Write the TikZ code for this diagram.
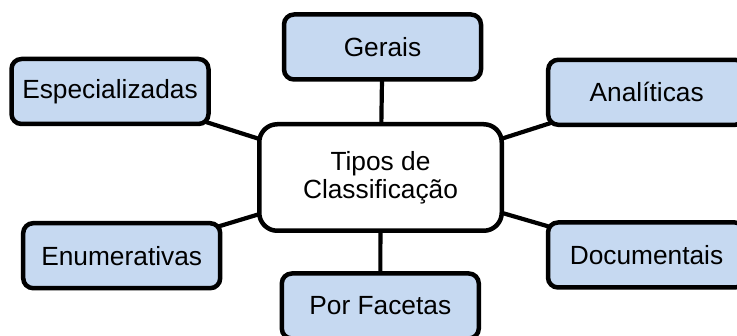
\documentclass[tikz,border=0pt]{standalone}
\usepackage{fontspec}
\setmainfont{Liberation Sans}
\usetikzlibrary{backgrounds}
\definecolor{boxblue}{RGB}{198,217,241}
\begin{document}
\begin{tikzpicture}[x=1pt,y=-1pt,
  leaf/.style={draw=black, line width=4.5pt, fill=boxblue, rounded corners=10pt,
    minimum width=197pt, minimum height=65pt, inner sep=0pt,
    font=\fontsize{26.3}{28}\selectfont},
  hub/.style={draw=black, line width=4.5pt, fill=white, rounded corners=18pt,
    minimum width=242.5pt, minimum height=106.5pt, inner sep=0pt, align=center,
    font=\fontsize{26.3}{28}\selectfont},
  link/.style={line width=4.2pt}]
\useasboundingbox (0,0) rectangle (737,336);
\clip (0,0) rectangle (737,336);
\node[hub] (ctr) at (380.5,177.5) {Tipos de\\Classificação};
\node[leaf] (ger) at (382.5,47) {Gerais};
\node[leaf] (esp) at (110,91.5) {Especializadas};
\node[leaf] (ana) at (646.7,92.3) {Analíticas};
\node[leaf] (enu) at (121.7,255.7) {Enumerativas};
\node[leaf] (doc) at (646.5,255) {Documentais};
\node[leaf] (fac) at (380.3,306) {Por Facetas};
\begin{scope}[on background layer]
\draw[link] (ger.center) -- (ctr.center);
\draw[link] (esp.center) -- (ctr.center);
\draw[link] (ana.center) -- (ctr.center);
\draw[link] (enu.center) -- (ctr.center);
\draw[link] (doc.center) -- (ctr.center);
\draw[link] (fac.center) -- (ctr.center);
\end{scope}
\end{tikzpicture}
\end{document}
